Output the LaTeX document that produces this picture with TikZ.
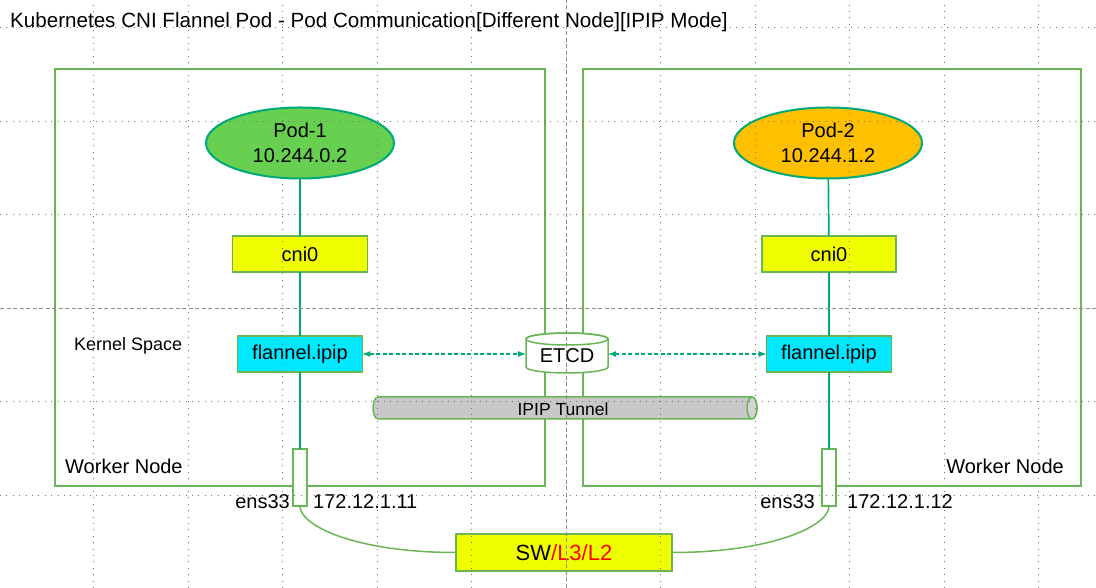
\documentclass[tikz,border=0pt]{standalone}
\usepackage{fontspec}
\setmainfont{Liberation Sans}
\usetikzlibrary{shapes.geometric}
\usetikzlibrary{arrows}
\definecolor{boxgreen}{RGB}{106,182,86}
\definecolor{linkteal}{RGB}{0,170,120}
\definecolor{podgreen}{RGB}{104,208,80}
\definecolor{podorange}{RGB}{255,192,0}
\definecolor{ifyellow}{RGB}{240,255,0}
\definecolor{ifcyan}{RGB}{0,232,255}
\definecolor{tunnelgray}{RGB}{200,200,200}
\definecolor{swred}{RGB}{255,0,0}
\tikzstyle{diagram}=[x=1pt, y=1pt, font=\fontsize{20}{24}\selectfont]
\tikzstyle{worker}=[rectangle, draw=boxgreen, line width=1.5pt, inner sep=0pt, outer sep=0pt]
\tikzstyle{pod}=[ellipse, draw=linkteal, line width=2pt, minimum width=188, minimum height=71, inner sep=0pt, align=center, font=\fontsize{20}{25}\selectfont]
\tikzstyle{iface}=[rectangle, draw=boxgreen, line width=1.5pt, inner sep=0pt, outer sep=0pt]
\tikzstyle{port}=[rectangle, draw=boxgreen, fill=white, line width=1.5pt, minimum width=14, minimum height=57, inner sep=0pt, outer sep=0pt]
\tikzstyle{lbl}=[inner sep=0pt]
\tikzstyle{link}=[draw=linkteal, line width=1.7pt]
\tikzstyle{sync}=[latex-latex, draw=linkteal, line width=1.7pt, dash pattern=on 4pt off 2.5pt]
\tikzstyle{cable}=[draw=boxgreen, line width=1.5pt]
\tikzstyle{tube}=[draw=boxgreen, line width=1.5pt]
\tikzstyle{guide}=[black!55, line width=0.7pt, dash pattern=on 0.9pt off 5.5pt]
\tikzstyle{midguide}=[black!45, line width=0.7pt, dash pattern=on 4pt off 2.5pt]

\begin{document}
\begin{tikzpicture}[diagram]
	\useasboundingbox (0,0) rectangle (1096,588);

	%The title
	\draw (10,560) node[lbl, anchor=base west, font=\fontsize{20.6}{24}\selectfont] (title) {Kubernetes CNI Flannel Pod - Pod Communication[Different Node][IPIP Mode]};

	%The worker nodes
	\draw (300,310.5) node[worker, minimum width=490, minimum height=417] (host1) {};
	\draw (832,310.5) node[worker, minimum width=498, minimum height=417] (host2) {};
	\draw (65,114) node[lbl, anchor=base west] (host1name) {Worker Node};
	\draw (1064,114) node[lbl, anchor=base east] (host2name) {Worker Node};
	\draw (74,237) node[lbl, anchor=base west, font=\fontsize{18}{22}\selectfont] (kspace) {Kernel Space};

	%The pods
	\draw (300,445) node[pod, fill=podgreen] (pod1) {Pod-1\\10.244.0.2};
	\draw (828,445) node[pod, fill=podorange] (pod2) {Pod-2\\10.244.1.2};

	%The bridges
	\draw (300,334) node[iface, fill=ifyellow, minimum width=135, minimum height=36] (cni1) {cni0};
	\draw (829,334) node[iface, fill=ifyellow, minimum width=134, minimum height=36] (cni2) {cni0};

	%The tunnel devices
	\draw (300,234) node[iface, fill=ifcyan, minimum width=125, minimum height=36] (flan1) {flannel.ipip};
	\draw (829,234) node[iface, fill=ifcyan, minimum width=125, minimum height=36] (flan2) {flannel.ipip};

	%The ETCD store
	\draw[tube, fill=white] (526,249) -- (526,221) arc[start angle=180, end angle=360, x radius=41, y radius=6] -- (608,249) arc[start angle=0, end angle=180, x radius=41, y radius=6] -- cycle;
	\draw[tube] (567,249) ellipse[x radius=41, y radius=6];
	\draw (567,232) node[lbl, minimum width=82, minimum height=30] (etcd) {ETCD};

	%The IPIP tunnel
	\draw[tube, fill=tunnelgray] (378,191) -- (752,191) arc[start angle=90, end angle=-90, x radius=5, y radius=11] -- (378,169) arc[start angle=270, end angle=90, x radius=5, y radius=11] -- cycle;
	\draw[tube, fill=tunnelgray!80] (752,180) ellipse[x radius=5, y radius=11];
	\draw (563,179) node[lbl, font=\fontsize{17.5}{21}\selectfont] (tunnel) {IPIP Tunnel};

	%The physical ports
	\draw (300,110.5) node[port] (ens1) {};
	\draw (829,110.5) node[port] (ens2) {};
	\draw (290,79.5) node[lbl, anchor=base east] (ens1name) {ens33};
	\draw (313,79.5) node[lbl, anchor=base west] (ens1ip) {172.12.1.11};
	\draw (815,79.5) node[lbl, anchor=base east] (ens2name) {ens33};
	\draw (847,79.5) node[lbl, anchor=base west] (ens2ip) {172.12.1.12};

	%The switch
	\draw (564,35.5) node[iface, fill=ifyellow, minimum width=216, minimum height=37, font=\fontsize{22}{26}\selectfont] (sw) {SW\textcolor{swred}{/L3/L2}};

	%The links inside each node
	\draw[link] (pod1) -- (cni1);
	\draw[link] (cni1) -- (flan1);
	\draw[link] (flan1) -- (ens1);
	\draw[link] (pod2) -- (cni2);
	\draw[link] (cni2) -- (flan2);
	\draw[link] (flan2) -- (ens2);

	%The ETCD sync
	\draw[sync] (flan1.east) -- (etcd.west |- flan1.east);
	\draw[sync] (etcd.east |- flan2.west) -- (flan2.west);

	%The cables to the switch
	\draw[cable] (ens1.south) .. controls +(0,-20) and +(-100,0) .. (sw.west);
	\draw[cable] (sw.east) .. controls +(100,0) and +(0,-20) .. (ens2.south);

	%The slide guides
	\foreach \k in {-5,...,-1,1,2,3,4,5}
		\draw[guide] ({566+94.5*\k},0) -- ({566+94.5*\k},588);
	\draw[midguide] (566,0) -- (566,588);
	\foreach \k in {-2,-1,1,2,3}
		\draw[guide] (0,{280+93.5*\k}) -- (1096,{280+93.5*\k});
	\draw[midguide] (0,280) -- (1096,280);
\end{tikzpicture}
\end{document}
